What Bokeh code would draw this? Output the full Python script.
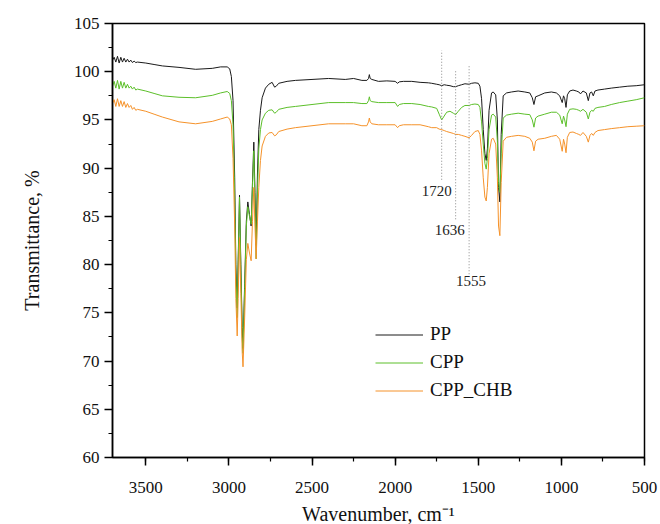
from bokeh.plotting import figure
from bokeh.models import Range1d, SingleIntervalTicker, Legend, LegendItem
from bokeh.core.properties import value
from bokeh.embed import file_html
from bokeh.resources import INLINE

# ---------------- data ----------------
wavenumber = [
    3700, 3690, 3680, 3670, 3660, 3650, 3640, 3630, 3620, 3610, 3600, 3590, 3580, 3570, 3560, 3550,
    3500, 3450, 3400, 3300, 3200, 3100, 3050, 3010, 2995, 2985,
    2975, 2965, 2958, 2950, 2944, 2936, 2928, 2920, 2915, 2905, 2895, 2886, 2876, 2866, 2858, 2850,
    2843, 2836, 2828, 2820, 2810, 2800, 2780, 2760, 2740, 2725, 2715, 2700, 2650,
    2600, 2500, 2400, 2300, 2250, 2200, 2170, 2160, 2155, 2150, 2140, 2100, 2050, 2000, 1985, 1975,
    1950, 1900, 1850, 1800, 1780, 1750, 1735, 1720, 1705, 1690, 1670, 1650, 1636, 1620, 1600, 1580,
    1555, 1540, 1520, 1500,
    1490, 1480, 1470, 1460, 1452, 1445, 1435, 1420, 1410, 1395, 1385, 1378, 1370, 1362, 1350, 1330,
    1300, 1260, 1220, 1190, 1175, 1165, 1155, 1140, 1100, 1060, 1030, 1010, 995, 987, 980, 972, 964,
    950, 930, 910, 895, 885, 870, 850, 838, 828, 818, 808, 798, 780, 740, 700, 650, 600, 550, 500,
]

pp = [
    101.2, 101.5, 101.0, 101.6, 100.9, 101.5, 101.0, 101.4, 101.0, 101.3, 101.0, 101.2, 100.95, 101.1, 100.95, 101.0,
    100.9, 100.75, 100.6, 100.45, 100.25, 100.35, 100.5, 100.5, 100.3, 99.5,
    97.0, 89.0, 80.0, 75.5, 80.5, 87.2, 80.0, 73.5, 71.3, 78.0, 84.5, 86.5, 85.2, 84.0, 88.5, 92.7,
    87.5, 82.0, 89.5, 94.0, 96.0, 97.3, 98.3, 98.7, 98.9, 98.4, 98.5, 98.8, 99.0,
    99.1, 99.2, 99.3, 99.2, 99.3, 99.1, 99.1, 99.3, 99.7, 99.3, 99.2, 99.0, 99.05, 99.0, 98.8, 98.95,
    99.0, 99.0, 98.9, 98.85, 98.8, 98.7, 98.65, 98.55, 98.65, 98.6, 98.55, 98.45, 98.45, 98.55, 98.65, 98.75,
    98.7, 98.8, 98.85, 98.8,
    98.5, 97.2, 94.0, 91.5, 90.8, 92.0, 96.0, 97.8, 97.9, 97.6, 95.0, 88.0, 86.5, 93.5, 97.5, 97.8,
    97.9, 98.0, 97.9, 97.8, 97.3, 96.6, 97.4, 97.5, 97.8, 97.9, 97.8, 97.5, 96.8, 97.5, 97.2, 96.3, 97.6,
    98.0, 98.1, 98.0, 97.9, 97.7, 98.0, 97.8, 97.0, 97.8, 97.9, 97.5, 98.0, 98.1, 98.2, 98.3, 98.4, 98.5, 98.55, 98.65,
]

cpp = [
    98.5, 99.0, 98.3, 99.1, 98.2, 99.0, 98.3, 98.9, 98.3, 98.7, 98.3, 98.5, 98.2, 98.4, 98.1, 98.2,
    98.0, 97.75, 97.5, 97.35, 97.3, 97.55, 97.8, 97.95, 97.75, 97.0,
    94.5, 87.0, 79.0, 74.5, 80.0, 87.0, 79.5, 72.5, 70.8, 77.5, 84.0, 86.0, 85.0, 84.2, 88.0, 91.8,
    86.5, 80.6, 87.5, 92.0, 94.0, 95.0, 95.7, 96.0, 96.05, 95.7, 95.8, 96.1, 96.3,
    96.4, 96.6, 96.8, 96.8, 96.8, 96.7, 96.7, 97.0, 97.4, 97.0, 96.9, 96.8, 96.8, 96.8, 96.4, 96.6,
    96.7, 96.7, 96.6, 96.4, 96.35, 96.2, 95.6, 95.0, 95.4, 95.8, 95.9, 95.7, 95.55, 95.9, 96.3, 96.5,
    96.5, 96.6, 96.65, 96.6,
    96.3, 94.8, 92.5, 90.5, 89.9, 91.0, 94.0, 95.5, 95.6, 95.3, 92.8, 88.5, 87.5, 91.5, 95.2, 95.5,
    95.6, 95.7, 95.6, 95.55, 95.0, 94.25, 95.2, 95.4, 95.6, 95.8, 95.8, 95.5, 94.6, 95.4, 95.0, 94.3, 95.6,
    96.1, 96.15, 96.1, 96.0, 95.9, 96.1, 95.8, 95.1, 95.8, 96.0, 95.9, 96.2, 96.3, 96.4, 96.6, 96.8, 96.95, 97.1, 97.3,
]

cpp_chb = [
    96.7, 97.1, 96.4, 97.2, 96.4, 97.0, 96.4, 96.9, 96.3, 96.7, 96.3, 96.5, 96.1, 96.3, 96.0, 96.1,
    95.9, 95.6, 95.3, 94.8, 94.6, 94.85, 95.1, 95.3, 95.1, 94.5,
    91.0, 84.0, 76.5, 72.6, 76.5, 82.8, 77.0, 71.0, 69.4, 74.5, 80.5, 82.2, 81.2, 80.4, 84.5, 88.0,
    84.0, 80.6, 84.5, 88.0, 90.8, 92.3, 93.3, 93.65, 93.7, 93.35, 93.45, 93.8, 94.05,
    94.2, 94.4, 94.6, 94.6, 94.6, 94.4, 94.4, 94.8, 95.2, 94.8, 94.6, 94.5, 94.5, 94.5, 94.2, 94.4,
    94.5, 94.5, 94.5, 94.3, 94.2, 94.2, 94.05, 94.0, 93.9, 93.8, 93.7, 93.6, 93.5, 93.5, 93.4, 93.3,
    93.15, 93.4, 93.8, 93.9,
    93.5, 91.8, 89.0, 87.0, 86.6, 88.0, 91.5, 93.0, 93.1, 92.5, 89.0, 84.0, 83.0, 88.5, 92.8, 93.2,
    93.3, 93.4, 93.3, 93.1, 92.7, 91.8, 92.8, 93.0, 93.1, 93.3, 93.4, 93.0, 91.75, 93.0, 92.5, 91.6, 93.2,
    93.7, 93.75, 93.6, 93.5, 93.4, 93.7, 93.3, 92.7, 93.4, 93.6, 93.4, 93.7, 93.9, 94.0, 94.1, 94.2, 94.3, 94.35, 94.4,
]

series_names = ["PP", "CPP", "CPP_CHB"]

marker_wn = [1720, 1636, 1555]
marker_top = [102.2, 100.2, 100.7]
marker_bottom = [88.8, 84.7, 79.0]
marker_labels = ["1720", "1636", "1555"]

x_ticks_major = 500
y_ticks_major = 5

# ---------------- figure ----------------
FONT = "Liberation Serif"
colors = ["#1a1a1a", "#5cbf2a", "#f5922a"]

p = figure(
    output_backend="svg", toolbar_location=None,
    frame_width=532, frame_height=434,
    min_border_left=112, min_border_right=14, min_border_top=23, min_border_bottom=66,
    x_range=Range1d(3700, 500), y_range=Range1d(60, 105),
    background_fill_color="white", border_fill_color="white",
)
p.grid.visible = False
p.outline_line_color = "black"
p.outline_line_width = 1.5

renderers = []
for vals, c in zip([pp, cpp, cpp_chb], colors):
    r = p.line(wavenumber, vals, line_color=c, line_width=1)
    renderers.append(r)

# annotation dotted markers
p.segment(x0=marker_wn, y0=marker_bottom, x1=marker_wn, y1=marker_top,
          line_color="#8a8a8a", line_width=1, line_dash="1 2")
label_dx = [-5, -6, 2]
label_dy = [6, 6, 2]
for wn, yb, lab, dx, dy in zip(marker_wn, marker_bottom, marker_labels, label_dx, label_dy):
    p.text(x=[wn], y=[yb], text=[lab], x_offset=dx, y_offset=dy,
           text_align="center", text_baseline="top",
           text_font=value(FONT), text_font_size="15px", text_color="#222222")

# axes
for ax in (p.xaxis[0], p.yaxis[0]):
    ax.axis_line_width = 1.5
    ax.axis_line_color = "black"
    ax.major_tick_line_width = 1.5
    ax.minor_tick_line_width = 1.2
    ax.major_tick_in = 0
    ax.major_tick_out = 8
    ax.minor_tick_in = 0
    ax.minor_tick_out = 4
    ax.major_label_text_font = FONT
    ax.major_label_text_font_size = "17px"
    ax.major_label_text_color = "#111111"
    ax.axis_label_text_font = FONT
    ax.axis_label_text_font_size = "20px"
    ax.axis_label_text_font_style = "normal"
    ax.axis_label_text_color = "#111111"

p.xaxis[0].ticker = SingleIntervalTicker(interval=x_ticks_major, num_minor_ticks=2)
p.yaxis[0].ticker = SingleIntervalTicker(interval=y_ticks_major, num_minor_ticks=2)
p.xaxis[0].axis_label = "Wavenumber, cm\u207b\u00b9"
p.yaxis[0].axis_label = "Transmittance, %"
p.xaxis[0].major_label_standoff = 16
p.xaxis[0].axis_label_standoff = 7
p.yaxis[0].major_label_standoff = 5
p.yaxis[0].axis_label_standoff = 28

legend = Legend(
    items=[LegendItem(label=n, renderers=[r]) for n, r in zip(series_names, renderers)],
    location=(263, 56),
    padding=0, margin=0, spacing=6,
    glyph_width=48, glyph_height=21, label_height=21, label_standoff=7,
    label_text_font=FONT, label_text_font_size="19px", label_text_color="#111111",
    border_line_alpha=0, background_fill_alpha=0,
)
p.add_layout(legend, "center")

open("out.html", "w").write(file_html(p, INLINE))
